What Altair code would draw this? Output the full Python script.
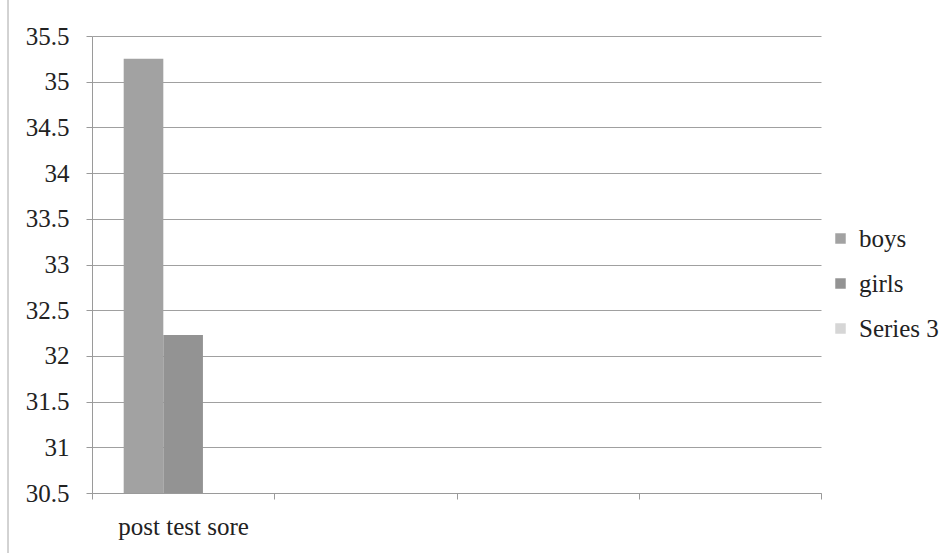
import altair as alt
import pandas as pd

categories = ["post test sore", "cat 2", "cat 3", "cat 4"]
series = ["boys", "girls", "Series 3"]
series_colors = ["#a2a2a2", "#939393", "#d6d6d6"]
bar_category = ["post test sore", "post test sore"]
bar_series = ["boys", "girls"]
bar_values = [35.25, 32.23]
y_ticks = [30.5, 31, 31.5, 32, 32.5, 33, 33.5, 34, 34.5, 35, 35.5]

df = pd.DataFrame({"category": bar_category, "series": bar_series, "value": bar_values})

FONT = "Liberation Serif"
FS = 25

bars = alt.Chart(df).mark_bar(clip=True).encode(
    x=alt.X(
        "category:N",
        scale=alt.Scale(domain=categories, paddingInner=0, paddingOuter=0),
        axis=alt.Axis(
            title=None,
            labelAngle=0,
            labelExpr="datum.label == 'post test sore' ? datum.label : ''",
            tickBand="extent",
            tickSize=6,
            tickColor="#9a9a9a",
            domainColor="#9a9a9a",
            labelPadding=15,
            labelFont=FONT,
            labelFontSize=FS,
            labelColor="#222222",
            grid=False,
        ),
    ),
    xOffset=alt.XOffset(
        "series:N",
        scale=alt.Scale(domain=series, paddingInner=0, paddingOuter=0.8),
    ),
    y=alt.Y(
        "value:Q",
        stack=None,
        scale=alt.Scale(domain=[30.5, 35.5], nice=False, zero=False),
        axis=alt.Axis(
            title=None,
            values=y_ticks,
            format="~g",
            tickSize=6,
            tickColor="#9a9a9a",
            domainColor="#9a9a9a",
            gridColor="#a0a0a0",
            gridWidth=1,
            labelPadding=17,
            labelFont=FONT,
            labelFontSize=FS,
            labelColor="#222222",
        ),
    ),
    color=alt.Color(
        "series:N",
        scale=alt.Scale(domain=series, range=series_colors),
        legend=alt.Legend(
            title=None,
            orient="none",
            legendX=736,
            legendY=190,
            symbolType="square",
            symbolSize=110,
            symbolStrokeWidth=0,
            labelFont=FONT,
            labelFontSize=FS,
            labelColor="#222222",
            rowPadding=19,
            labelOffset=6,
        ),
    ),
)

border = alt.Chart(df).mark_rule(color="#c4c4c4", strokeWidth=1).encode(
    x=alt.value(-84), y=alt.value(-36), y2=alt.value(517)
)

chart = alt.layer(bars, border).properties(
    width=729,
    height=457,
    autosize=alt.AutoSizeParams(type="none"),
    padding={"left": 92, "top": 36, "right": 128, "bottom": 60},
    background="white",
).configure_view(stroke=None)

chart.save("out.html", embed_options={"renderer": "svg", "actions": False})
